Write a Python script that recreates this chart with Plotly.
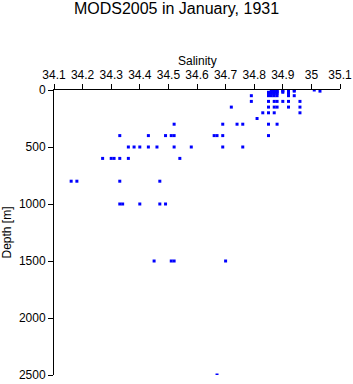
import plotly.graph_objects as go

title_text = "MODS2005 in January, 1931"
x_title = "Salinity"
y_title = "Depth [m]"
x_ticks = [34.1, 34.2, 34.3, 34.4, 34.5, 34.6, 34.7, 34.8, 34.9, 35.0, 35.1]
x_tick_labels = ["34.1", "34.2", "34.3", "34.4", "34.5", "34.6", "34.7", "34.8", "34.9", "35", "35.1"]
y_ticks = [0, 500, 1000, 1500, 2000, 2500]

depth_levels = [0, 10, 20, 30, 50, 100, 150, 200, 250, 300, 400, 500, 600, 800, 1000, 1500, 2500]
salinity_at_level = [
    [34.86, 34.87, 34.88, 34.90, 34.92, 34.94, 35.01],
    [34.86, 34.87, 34.88, 34.90, 34.92, 34.94, 35.03],
    [34.85, 34.86, 34.87, 34.88, 34.90, 34.92],
    [34.85, 34.86, 34.87, 34.88, 34.92],
    [34.79, 34.85, 34.86, 34.87, 34.88, 34.92, 34.94],
    [34.79, 34.85, 34.87, 34.88, 34.90, 34.92, 34.96],
    [34.72, 34.85, 34.87, 34.88, 34.92, 34.96],
    [34.83, 34.85, 34.87, 34.96],
    [34.81],
    [34.52, 34.69, 34.74, 34.76, 34.85, 34.88],
    [34.33, 34.43, 34.49, 34.51, 34.52, 34.66, 34.67, 34.69, 34.85],
    [34.36, 34.38, 34.40, 34.43, 34.46, 34.52, 34.58, 34.69, 34.76],
    [34.27, 34.30, 34.31, 34.33, 34.36, 34.54],
    [34.16, 34.18, 34.33, 34.47],
    [34.33, 34.34, 34.40, 34.47, 34.49],
    [34.45, 34.51, 34.52, 34.70],
    [34.67],
]

xs, ys = [], []
for d, sals in zip(depth_levels, salinity_at_level):
    for s in sals:
        xs.append(s)
        ys.append(d)

fig = go.Figure(go.Scatter(
    x=xs, y=ys, mode="markers",
    marker=dict(symbol="square", size=3, color="#0000ff", line=dict(width=0)),
    showlegend=False, hoverinfo="skip",
))

font_family = "Liberation Sans, Arial, sans-serif"
H, T, B = 384, 90, 9
plot_h = H - T - B
fig.update_layout(
    width=353, height=H,
    margin=dict(l=54, r=13, t=T, b=B),
    paper_bgcolor="white", plot_bgcolor="white",
    font=dict(family=font_family, size=12, color="black"),
    title=dict(text=title_text, x=0.5, xanchor="center", y=1 - 8 / H, yanchor="middle",
               font=dict(size=16, family=font_family, color="black")),
    xaxis=dict(
        side="top", range=[34.1, 35.1], tickmode="array", tickvals=x_ticks, ticktext=x_tick_labels,
        showgrid=False, zeroline=False, showline=True, linecolor="black", linewidth=1,
        ticks="outside", ticklen=5, tickcolor="black", tickfont=dict(size=12),
        automargin=False,
    ),
    yaxis=dict(
        range=[2500, 0], tickmode="array", tickvals=y_ticks,
        showgrid=False, zeroline=False, showline=True, linecolor="black", linewidth=1,
        ticks="outside", ticklen=5, tickcolor="black", tickfont=dict(size=12),
        title=dict(text=y_title, font=dict(size=12), standoff=4),
        automargin=False,
    ),
    annotations=[dict(
        text=x_title, xref="paper", yref="paper", x=0.5, y=1 + (T - 61) / plot_h,
        xanchor="center", yanchor="middle", showarrow=False, font=dict(size=12),
    )],
)

fig.write_html("out.html")
